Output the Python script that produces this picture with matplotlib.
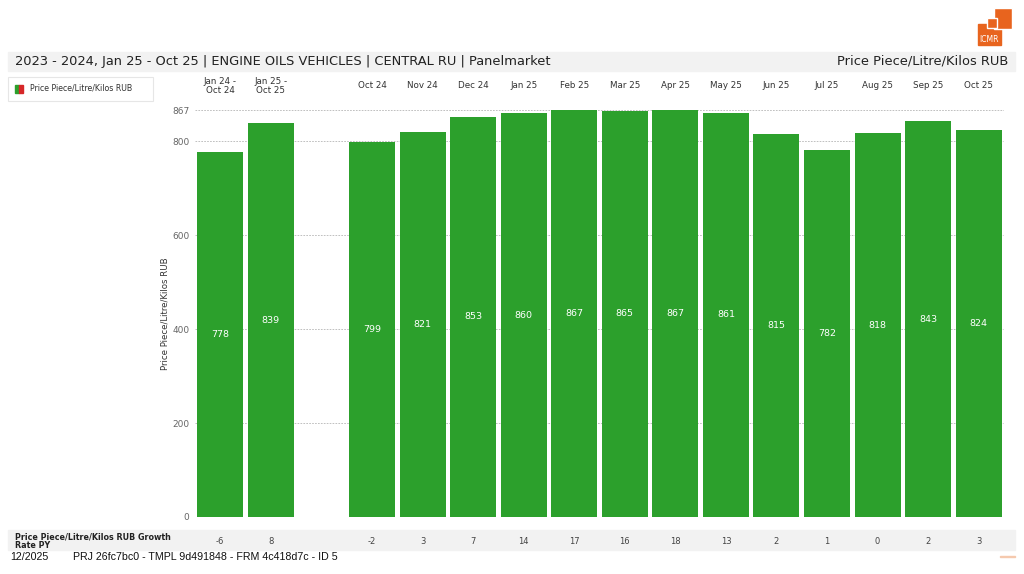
import numpy as np
import matplotlib.pyplot as plt
import matplotlib.patches as mpatches
from matplotlib.transforms import blended_transform_factory

# data
categories = ['Jan 24 -\nOct 24', 'Jan 25 -\nOct 25', '',
              'Oct 24', 'Nov 24', 'Dec 24', 'Jan 25', 'Feb 25', 'Mar 25',
              'Apr 25', 'May 25', 'Jun 25', 'Jul 25', 'Aug 25', 'Sep 25', 'Oct 25']
prices = [778, 839, None, 799, 821, 853, 860, 867, 865, 867, 861, 815, 782, 818, 843, 824]
growth = ['-6', '8', '', '-2', '3', '7', '14', '17', '16', '18', '13', '2', '1', '0', '2', '3']
yticks = [0, 200, 400, 600, 800, 867]

green = '#2ca02c'
orange = '#e8641e'
W, H = 1024, 574

fig = plt.figure(figsize=(W / 100, H / 100), dpi=100)
ax = fig.add_axes([195 / W, 1 - 517 / H, 809 / W, 407 / H])

for i, v in enumerate(prices):
    if v is None:
        continue
    ax.bar(i, v, width=0.91, color=green, zorder=3)
    ax.text(i, v / 2, str(v), ha='center', va='center', color='white', fontsize=6.8, zorder=4)

ax.set_xlim(-0.5, len(categories) - 0.5)
ax.set_ylim(0, 867)
ax.set_yticks(yticks)
ax.set_yticklabels([str(t) for t in yticks], fontsize=6.5, color='#666666')
ax.tick_params(axis='y', length=0, pad=4)
ax.set_xticks([])
for t in yticks:
    ax.axhline(t, color='#b5b5b5', lw=0.6, ls=(0, (2, 1.5)), zorder=1)
for s in ax.spines.values():
    s.set_visible(False)
ax.set_ylabel('Price Piece/Litre/Kilos RUB', fontsize=6.2, color='#333333', labelpad=2)

trans = blended_transform_factory(ax.transData, ax.transAxes)
for i, c in enumerate(categories):
    ax.text(i, 1.059, c, transform=trans, ha='center', va='center',
            fontsize=6.3, color='#333333', linespacing=1.0)
    ax.text(i, -0.059, growth[i], transform=trans, ha='center', va='center',
            fontsize=6, color='#444444', zorder=5)

# title band
fig.patches.append(mpatches.Rectangle((8 / W, 1 - 71 / H), 1007 / W, 19 / H,
                                      transform=fig.transFigure, color='#f2f2f2', zorder=-1))
fig.text(15 / W, 1 - 61 / H, '2023 - 2024, Jan 25 - Oct 25 | ENGINE OILS VEHICLES | CENTRAL RU | Panelmarket',
         fontsize=9.4, color='#222222', va='center')
fig.text(1008 / W, 1 - 61 / H, 'Price Piece/Litre/Kilos RUB', fontsize=9.4, color='#222222',
         va='center', ha='right')

# legend box
fig.patches.append(mpatches.Rectangle((8 / W, 1 - 101 / H), 145 / W, 24 / H,
                                      transform=fig.transFigure, facecolor='white',
                                      edgecolor='#e6e6e6', lw=0.8, zorder=-1))
fig.patches.append(mpatches.Rectangle((15 / W, 1 - 93 / H), 4 / W, 8 / H,
                                      transform=fig.transFigure, color=green, zorder=1))
fig.patches.append(mpatches.Rectangle((19 / W, 1 - 93 / H), 4 / W, 8 / H,
                                      transform=fig.transFigure, color='#d62728', zorder=1))
fig.text(30 / W, 1 - 88 / H, 'Price Piece/Litre/Kilos RUB', fontsize=5.7, color='#333333', va='center')

# growth band
fig.patches.append(mpatches.Rectangle((8 / W, 1 - 550 / H), 1007 / W, 20 / H,
                                      transform=fig.transFigure, color='#f2f2f2', zorder=-1))
fig.text(15 / W, 1 - 541 / H, 'Price Piece/Litre/Kilos RUB Growth\nRate PY', fontsize=5.8,
         fontweight='bold', color='#222222', va='center', linespacing=0.95)

# footer
fig.text(10 / W, 1 - 557 / H, '12/2025', fontsize=7.7, family='Liberation Sans', va='center', color='#111111')
fig.text(73 / W, 1 - 557 / H, 'PRJ 26fc7bc0 - TMPL 9d491848 - FRM 4c418d7c - ID 5', fontsize=7.7,
         family='Liberation Sans', va='center', color='#111111')
fig.patches.append(mpatches.Rectangle((1000 / W, 1 - 557 / H), 15 / W, 1.5 / H,
                                      transform=fig.transFigure, color='#f5c9ae', zorder=1))

# logo
fig.patches.append(mpatches.Rectangle((978 / W, 1 - 45 / H), 23 / W, 21 / H,
                                      transform=fig.transFigure, color=orange, zorder=1))
fig.patches.append(mpatches.Rectangle((994 / W, 1 - 29 / H), 18 / W, 21 / H,
                                      transform=fig.transFigure, facecolor=orange,
                                      edgecolor='white', lw=1, zorder=2))
fig.patches.append(mpatches.Rectangle((987 / W, 1 - 28 / H), 10 / W, 10 / H,
                                      transform=fig.transFigure, facecolor=orange,
                                      edgecolor='white', lw=1, zorder=3))
fig.text(989 / W, 1 - 39 / H, 'ICMR', fontsize=5.5, color='white', ha='center', va='center', zorder=4)

fig.savefig('out.png', dpi=100)
